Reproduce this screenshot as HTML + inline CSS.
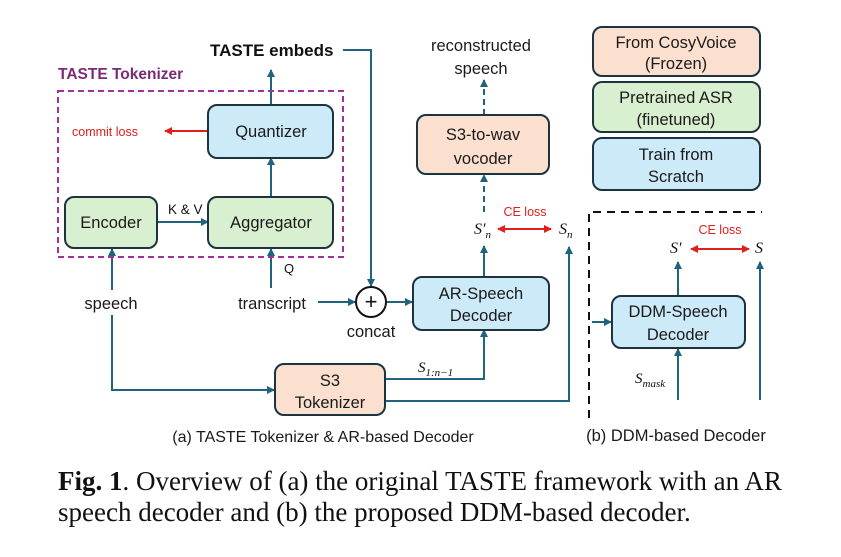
<!DOCTYPE html>
<html><head><meta charset="utf-8"><style>
html,body{margin:0;padding:0;background:#fff;}
svg{display:block;font-family:"Liberation Sans",sans-serif;}
</style></head><body>
<svg width="841" height="557" viewBox="0 0 841 557" xmlns="http://www.w3.org/2000/svg">
<defs>
<marker id="a" markerWidth="8" markerHeight="8" refX="7" refY="4" orient="auto" markerUnits="userSpaceOnUse"><path d="M0,0 L8,4 L0,8 z" fill="#20637f"/></marker>
<marker id="r" markerWidth="8" markerHeight="8" refX="7" refY="4" orient="auto-start-reverse" markerUnits="userSpaceOnUse"><path d="M0,0 L8,4 L0,8 z" fill="#e0201c"/></marker>
</defs>
<g stroke="#20637f" stroke-width="2" fill="none">
<path d="M343,50 H371 V286" marker-end="url(#a)"/>
<path d="M271,105 V70" marker-end="url(#a)"/>
<path d="M271,196 V158" marker-end="url(#a)"/>
<path d="M157,222 H208" marker-end="url(#a)"/>
<path d="M271,288 V249" marker-end="url(#a)"/>
<path d="M112,290 V249" marker-end="url(#a)"/>
<path d="M112,315 V390 H274" marker-end="url(#a)"/>
<path d="M318,302 H355" marker-end="url(#a)"/>
<path d="M387,302 H412" marker-end="url(#a)"/>
<path d="M385,379 H484 V330" marker-end="url(#a)"/>
<path d="M385,401 H569 V247" marker-end="url(#a)"/>
<path d="M484,277 V246" marker-end="url(#a)"/>
<path d="M484,212 V175" stroke-dasharray="6,4" marker-end="url(#a)"/>
<path d="M484,115 V80" stroke-dasharray="6,4" marker-end="url(#a)"/>
<path d="M592,322 H611" marker-end="url(#a)"/>
<path d="M678,296 V262" marker-end="url(#a)"/>
<path d="M678,400 V349" marker-end="url(#a)"/>
<path d="M760,400 V262" marker-end="url(#a)"/>
</g>
<path d="M208,131 H165" stroke="#e0201c" stroke-width="2" marker-end="url(#r)"/>
<path d="M498,229 H551" stroke="#e0201c" stroke-width="2" marker-start="url(#r)" marker-end="url(#r)"/>
<path d="M691,249 H749" stroke="#e0201c" stroke-width="2" marker-start="url(#r)" marker-end="url(#r)"/>
<rect x="58" y="91" width="285" height="166" fill="none" stroke="#a0309a" stroke-width="2" stroke-dasharray="6,4"/>
<path d="M589,418 V212 H762" fill="none" stroke="#111" stroke-width="2" stroke-dasharray="8,6"/>
<g stroke="#1c3340" stroke-width="2">
<rect x="208" y="105" width="125" height="53" rx="9" fill="#cdeaf8"/>
<rect x="65" y="197" width="92" height="51" rx="9" fill="#d8efd0"/>
<rect x="208" y="197" width="125" height="51" rx="9" fill="#d8efd0"/>
<rect x="413" y="277" width="136" height="53" rx="9" fill="#cdeaf8"/>
<rect x="275" y="364" width="110" height="51" rx="9" fill="#fbe0d0"/>
<rect x="417" y="115" width="132" height="59" rx="9" fill="#fbe0d0"/>
<rect x="593" y="27" width="167" height="49" rx="9" fill="#fbe0d0"/>
<rect x="593" y="82" width="167" height="50" rx="9" fill="#d8efd0"/>
<rect x="593" y="138" width="167" height="52" rx="9" fill="#cdeaf8"/>
<rect x="612" y="296" width="133" height="52" rx="9" fill="#cdeaf8"/>
<circle cx="371" cy="302" r="15" fill="#fff" stroke="#111"/>
</g>
<text x="371" y="309" font-size="22" text-anchor="middle" fill="#111">+</text>
<g font-size="16.5" fill="#1a1a1a" text-anchor="middle">
<text x="271" y="137">Quantizer</text>
<text x="111" y="228">Encoder</text>
<text x="271" y="228">Aggregator</text>
<text x="481" y="299">AR-Speech</text>
<text x="481" y="321">Decoder</text>
<text x="330" y="386">S3</text>
<text x="330" y="408">Tokenizer</text>
<text x="483" y="140">S3-to-wav</text>
<text x="483" y="164">vocoder</text>
<text x="676" y="48">From CosyVoice</text>
<text x="676" y="69">(Frozen)</text>
<text x="676" y="103">Pretrained ASR</text>
<text x="676" y="125">(finetuned)</text>
<text x="676" y="160">Train from</text>
<text x="676" y="182">Scratch</text>
<text x="678" y="317">DDM-Speech</text>
<text x="678" y="340">Decoder</text>
<text x="481" y="51">reconstructed</text>
<text x="481" y="74">speech</text>
<text x="111" y="309">speech</text>
<text x="272" y="309">transcript</text>
<text x="371" y="337">concat</text>
</g>
<text x="210" y="56" font-size="17" font-weight="bold" fill="#111">TASTE embeds</text>
<text x="58" y="79" font-size="15.5" font-weight="bold" fill="#7a2a78">TASTE Tokenizer</text>
<text x="72" y="136" font-size="12.5" fill="#e0201c">commit loss</text>
<text x="168" y="214" font-size="13.5" fill="#111">K &amp; V</text>
<text x="284" y="273" font-size="13" fill="#111">Q</text>
<text x="525" y="216" font-size="12.5" fill="#e0201c" text-anchor="middle">CE loss</text>
<text x="720" y="234" font-size="12.5" fill="#e0201c" text-anchor="middle">CE loss</text>
<g font-family="Liberation Serif,serif" font-style="italic" fill="#111">
<text x="474" y="234" font-size="16">S′<tspan font-size="11" dy="4">n</tspan></text>
<text x="559" y="234" font-size="16">S<tspan font-size="11" dy="4">n</tspan></text>
<text x="418" y="372" font-size="15">S<tspan font-size="11" dy="4">1:n−1</tspan></text>
<text x="670" y="253" font-size="16">S′</text>
<text x="755" y="253" font-size="16">S</text>
<text x="635" y="383" font-size="15">S<tspan font-size="11" dy="4">mask</tspan></text>
</g>
<text x="323" y="442" font-size="16" fill="#1a1a1a" text-anchor="middle">(a) TASTE Tokenizer &amp; AR-based Decoder</text>
<text x="676" y="441" font-size="16.5" fill="#1a1a1a" text-anchor="middle">(b) DDM-based Decoder</text>
<g font-family="Liberation Serif,serif" font-size="27" fill="#111">
<text x="58" y="490"><tspan font-weight="bold">Fig. 1</tspan>. Overview of (a) the original TASTE framework with an AR</text>
<text x="58" y="521">speech decoder and (b) the proposed DDM-based decoder.</text>
</g>
</svg>
</body></html>
